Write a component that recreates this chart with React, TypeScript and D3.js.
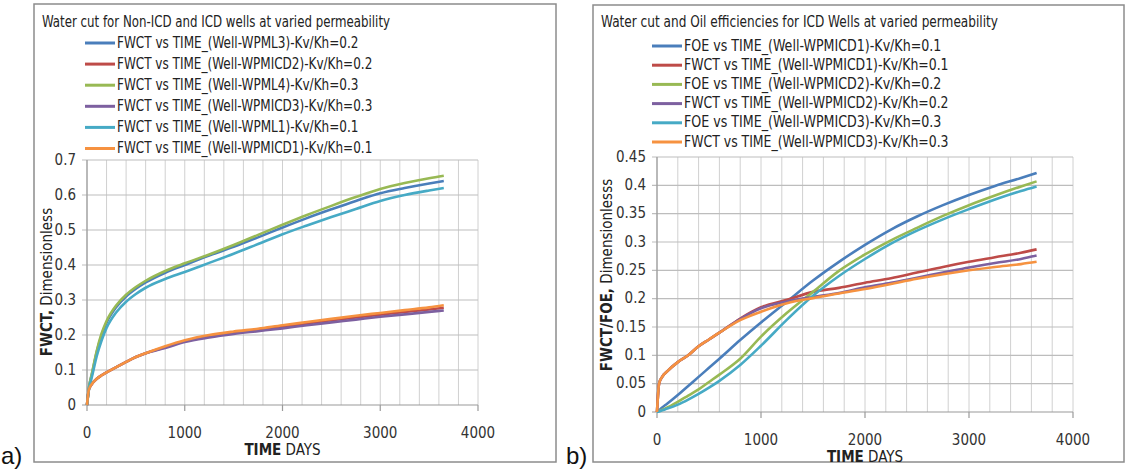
import React from "react";
import * as d3 from "d3";

// ---- left chart (a): water cut, non-ICD vs ICD wells
const timeA = [0, 20, 50, 100, 150, 200, 300, 400, 500, 600, 800, 1000, 1250, 1500, 1750, 2000, 2250, 2500, 2750, 3000, 3250, 3500, 3650];
const wpml3 = [0, 0.05, 0.088, 0.152, 0.2, 0.235, 0.28, 0.31, 0.332, 0.35, 0.378, 0.4, 0.427, 0.452, 0.479, 0.507, 0.534, 0.559, 0.583, 0.605, 0.62, 0.633, 0.64];
const wpmicd2A = [0, 0.045, 0.06, 0.075, 0.085, 0.093, 0.108, 0.123, 0.137, 0.148, 0.165, 0.183, 0.197, 0.207, 0.215, 0.224, 0.233, 0.242, 0.25, 0.258, 0.266, 0.273, 0.278];
const wpml4 = [0, 0.05, 0.09, 0.155, 0.205, 0.24, 0.285, 0.315, 0.337, 0.355, 0.383, 0.405, 0.43, 0.457, 0.486, 0.515, 0.543, 0.569, 0.594, 0.617, 0.634, 0.648, 0.655];
const wpmicd3A = [0, 0.045, 0.06, 0.075, 0.085, 0.093, 0.108, 0.123, 0.137, 0.148, 0.163, 0.18, 0.193, 0.203, 0.211, 0.219, 0.228, 0.236, 0.244, 0.252, 0.259, 0.266, 0.27];
const wpml1 = [0, 0.045, 0.08, 0.14, 0.185, 0.22, 0.265, 0.295, 0.317, 0.335, 0.36, 0.38, 0.406, 0.432, 0.46, 0.488, 0.513, 0.537, 0.56, 0.583, 0.6, 0.613, 0.62];
const wpmicd1A = [0, 0.045, 0.06, 0.075, 0.085, 0.093, 0.108, 0.123, 0.137, 0.148, 0.168, 0.185, 0.2, 0.21, 0.218, 0.228, 0.237, 0.246, 0.255, 0.263, 0.271, 0.279, 0.285];
const namesA = [
  "FWCT vs TIME_(Well-WPML3)-Kv/Kh=0.2",
  "FWCT vs TIME_(Well-WPMICD2)-Kv/Kh=0.2",
  "FWCT vs TIME_(Well-WPML4)-Kv/Kh=0.3",
  "FWCT vs TIME_(Well-WPMICD3)-Kv/Kh=0.3",
  "FWCT vs TIME_(Well-WPML1)-Kv/Kh=0.1",
  "FWCT vs TIME_(Well-WPMICD1)-Kv/Kh=0.1",
];
const yTicksA = [0, 0.1, 0.2, 0.3, 0.4, 0.5, 0.6, 0.7];

// ---- right chart (b): water cut and oil efficiency, ICD wells
const timeB = [0, 20, 50, 100, 200, 300, 400, 500, 600, 800, 1000, 1250, 1500, 1750, 2000, 2250, 2500, 2750, 3000, 3250, 3500, 3650];
const foeIcd1 = [0, 0.003, 0.008, 0.015, 0.03, 0.046, 0.062, 0.078, 0.094, 0.127, 0.158, 0.195, 0.232, 0.265, 0.295, 0.322, 0.345, 0.365, 0.383, 0.399, 0.413, 0.422];
const fwctIcd1 = [0, 0.05, 0.062, 0.072, 0.088, 0.1, 0.116, 0.128, 0.14, 0.165, 0.185, 0.198, 0.212, 0.219, 0.228, 0.236, 0.246, 0.256, 0.265, 0.273, 0.281, 0.287];
const foeIcd2 = [0, 0.002, 0.004, 0.008, 0.018, 0.029, 0.04, 0.053, 0.066, 0.094, 0.133, 0.175, 0.212, 0.249, 0.278, 0.303, 0.325, 0.346, 0.365, 0.382, 0.398, 0.407];
const fwctIcd2 = [0, 0.05, 0.062, 0.072, 0.088, 0.1, 0.116, 0.128, 0.14, 0.164, 0.183, 0.195, 0.203, 0.21, 0.22, 0.228, 0.237, 0.246, 0.255, 0.263, 0.27, 0.276];
const foeIcd3 = [0, 0.001, 0.003, 0.006, 0.013, 0.022, 0.032, 0.043, 0.055, 0.083, 0.117, 0.163, 0.205, 0.24, 0.27, 0.297, 0.32, 0.34, 0.358, 0.375, 0.39, 0.398];
const fwctIcd3 = [0, 0.05, 0.062, 0.072, 0.088, 0.1, 0.116, 0.128, 0.14, 0.162, 0.177, 0.192, 0.201, 0.209, 0.217, 0.226, 0.235, 0.243, 0.25, 0.256, 0.261, 0.265];
const namesB = [
  "FOE vs TIME_(Well-WPMICD1)-Kv/Kh=0.1",
  "FWCT vs TIME_(Well-WPMICD1)-Kv/Kh=0.1",
  "FOE vs TIME_(Well-WPMICD2)-Kv/Kh=0.2",
  "FWCT vs TIME_(Well-WPMICD2)-Kv/Kh=0.2",
  "FOE vs TIME_(Well-WPMICD3)-Kv/Kh=0.3",
  "FWCT vs TIME_(Well-WPMICD3)-Kv/Kh=0.3",
];
const yTicksB = [0, 0.05, 0.1, 0.15, 0.2, 0.25, 0.3, 0.35, 0.4, 0.45];

const xTicks = [0, 1000, 2000, 3000, 4000];
const colors = ["#4A7EBB", "#BE4B48", "#98B954", "#7D60A0", "#46AAC5", "#F69240"];
const FONT = "'Liberation Sans Narrow','DejaVu Sans Condensed','Liberation Sans',sans-serif";

type PanelProps = {
  frame: [number, number, number, number];
  plot: { x0: number; x1: number; y0: number; y1: number };
  yMax: number;
  yTicks: number[];
  yFmt: (v: number) => string;
  title: string;
  titleW: number;
  time: number[];
  series: number[][];
  names: string[];
  legend: { lx: number; y0: number; dy: number; charW: number };
  yTitleBold: string;
  yTitleRest: string;
  yTitleX: number;
  yTitleY: number;
  letter: string;
  letterX: number;
};

function Panel(p: PanelProps) {
  const x = d3.scaleLinear().domain([0, 4000]).range([p.plot.x0, p.plot.x1]);
  const y = d3.scaleLinear().domain([0, p.yMax]).range([p.plot.y0, p.plot.y1]);
  const line = d3.line<number>().x((_, i) => x(p.time[i])).y(v => y(v)).curve(d3.curveMonotoneX);
  const minor = d3.range(0, 4001, 200);
  const [fx, fy, fw, fh] = p.frame;
  const xMid = (p.plot.x0 + p.plot.x1) / 2;
  return (
    <g fontFamily={FONT}>
      <rect x={fx} y={fy} width={fw} height={fh} fill="#fff" stroke="#8c8c8c" strokeWidth={1.5} />
      <text x={fx + 8} y={22} fontSize={15} dominantBaseline="middle" fill="#222" textLength={p.titleW} lengthAdjust="spacingAndGlyphs">
        {p.title}
      </text>
      {p.names.map((n, i) => (
        <g key={n}>
          <line x1={p.legend.lx} x2={p.legend.lx + 30} y1={p.legend.y0 + i * p.legend.dy} y2={p.legend.y0 + i * p.legend.dy} stroke={colors[i]} strokeWidth={3} />
          <text x={p.legend.lx + 32} y={p.legend.y0 + i * p.legend.dy} fontSize={15} dominantBaseline="middle" fill="#222"
            textLength={n.length * p.legend.charW} lengthAdjust="spacingAndGlyphs">{n}</text>
        </g>
      ))}
      {/* grid */}
      {minor.map(t => (
        <line key={"v" + t} x1={x(t)} x2={x(t)} y1={p.plot.y1} y2={p.plot.y0} stroke="#d0d0d0" strokeWidth={1} />
      ))}
      {p.yTicks.map(v => (
        <line key={"h" + v} x1={p.plot.x0 - 5} x2={p.plot.x1} y1={y(v)} y2={y(v)} stroke={v === 0 ? "#9a9a9a" : "#bdbdbd"} strokeWidth={1.2} />
      ))}
      <line x1={p.plot.x0} x2={p.plot.x0} y1={p.plot.y1} y2={p.plot.y0} stroke="#9a9a9a" strokeWidth={1.2} />
      {xTicks.map(t => (
        <line key={"t" + t} x1={x(t)} x2={x(t)} y1={p.plot.y0} y2={p.plot.y0 + 6} stroke="#9a9a9a" strokeWidth={1.2} />
      ))}
      {p.yTicks.map(v => (
        <text key={"yl" + v} x={p.plot.x0 - 11} y={y(v)} textAnchor="end" dominantBaseline="middle" fontSize={15} fill="#333">{p.yFmt(v)}</text>
      ))}
      {xTicks.map(t => (
        <text key={"xl" + t} x={x(t)} y={p.plot.y0 + 28} textAnchor="middle" dominantBaseline="middle" fontSize={15} fill="#333">{t}</text>
      ))}
      <text x={xMid} y={p.plot.y0 + 45} textAnchor="middle" dominantBaseline="middle" fontSize={15} fill="#222">
        <tspan fontWeight="bold">TIME</tspan> DAYS
      </text>
      <text transform={`translate(${p.yTitleX},${p.yTitleY}) rotate(-90)`} textAnchor="middle" dominantBaseline="middle" fontSize={15} fill="#222">
        <tspan fontWeight="bold">{p.yTitleBold}</tspan>{p.yTitleRest}
      </text>
      {/* series, later ones drawn on top */}
      {p.series.map((s, i) => (
        <path key={"s" + i} d={line(s) || ""} fill="none" stroke={colors[i]} strokeWidth={2.6} strokeLinejoin="round" />
      ))}
      <text x={p.letterX} y={458} fontSize={24} dominantBaseline="middle" fill="#111" fontFamily="'Liberation Sans',sans-serif">{p.letter}</text>
    </g>
  );
}

export default function App() {
  return (
    <svg width={1129} height={472} style={{ display: "block", position: "absolute", left: 0, top: 0, background: "#fff" }}>
      <Panel
        frame={[34, 4, 522, 458]}
        plot={{ x0: 87, x1: 478, y0: 405, y1: 160 }}
        yMax={0.7}
        yTicks={yTicksA}
        yFmt={v => (v === 0 ? "0" : d3.format(".1f")(v))}
        title="Water cut for Non-ICD and ICD wells at varied permeability"
        titleW={348}
        time={timeA}
        series={[wpml3, wpmicd2A, wpml4, wpmicd3A, wpml1, wpmicd1A]}
        names={namesA}
        legend={{ lx: 85, y0: 43, dy: 21.1, charW: 6.9 }}
        yTitleBold="FWCT,"
        yTitleRest=" Dimensionless"
        yTitleX={47}
        yTitleY={282}
        letter="a)"
        letterX={1}
      />
      <Panel
        frame={[593, 5, 531, 457]}
        plot={{ x0: 657, x1: 1073, y0: 412, y1: 157 }}
        yMax={0.45}
        yTicks={yTicksB}
        yFmt={v => (v === 0 ? "0" : d3.format("")(v))}
        title="Water cut and Oil efficiencies for ICD Wells at varied permeability"
        titleW={397}
        time={timeB}
        series={[foeIcd1, fwctIcd1, foeIcd2, fwctIcd2, foeIcd3, fwctIcd3]}
        names={namesB}
        legend={{ lx: 652, y0: 46, dy: 19.2, charW: 7.15 }}
        yTitleBold="FWCT/FOE,"
        yTitleRest=" Dimensionlesss"
        yTitleX={607}
        yTitleY={275}
        letter="b)"
        letterX={566}
      />
    </svg>
  );
}
